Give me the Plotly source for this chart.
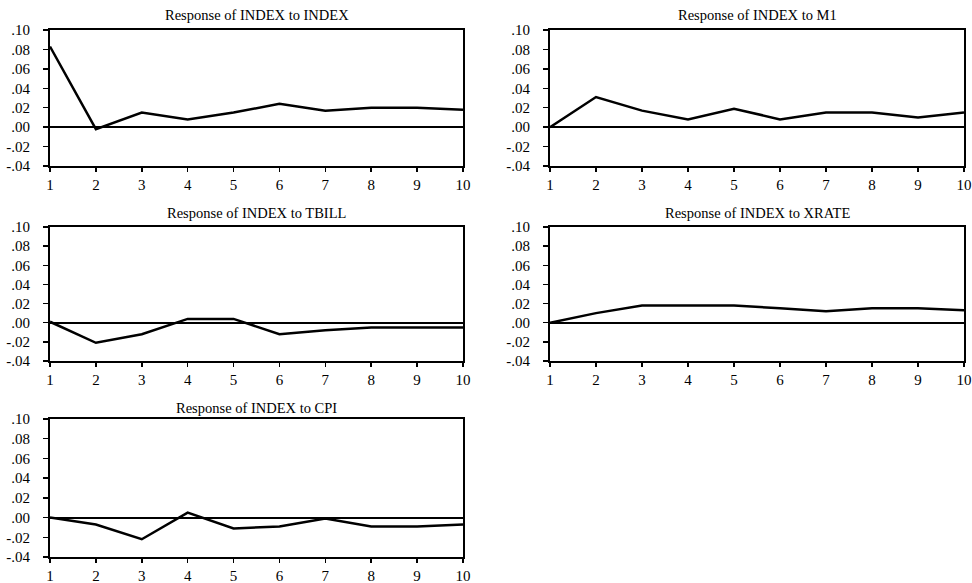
import plotly.graph_objects as go

periods = [1, 2, 3, 4, 5, 6, 7, 8, 9, 10]

titles = [
    "Response of INDEX to INDEX",
    "Response of INDEX to M1",
    "Response of INDEX to TBILL",
    "Response of INDEX to XRATE",
    "Response of INDEX to CPI",
]

resp_index = [0.083, -0.002, 0.015, 0.008, 0.015, 0.024, 0.017, 0.020, 0.020, 0.018]
resp_m1 = [0.000, 0.031, 0.017, 0.008, 0.019, 0.008, 0.015, 0.015, 0.010, 0.015]
resp_tbill = [0.001, -0.021, -0.012, 0.004, 0.004, -0.012, -0.008, -0.005, -0.005, -0.005]
resp_xrate = [0.000, 0.010, 0.018, 0.018, 0.018, 0.015, 0.012, 0.015, 0.015, 0.013]
resp_cpi = [0.000, -0.007, -0.022, 0.005, -0.011, -0.009, -0.001, -0.009, -0.009, -0.007]

series = [resp_index, resp_m1, resp_tbill, resp_xrate, resp_cpi]

y_tickvals = [-0.04, -0.02, 0.00, 0.02, 0.04, 0.06, 0.08, 0.10]
y_ticktext = ["-.04", "-.02", ".00", ".02", ".04", ".06", ".08", ".10"]

# layout geometry (page body margin removed below, so figure px == screen px)
W, H = 972, 583
def px_x(x):
    return x / W
def px_y(y):
    return 1 - y / H

col_x = [(px_x(50), px_x(463)), (px_x(550), px_x(964))]
row_y = [(px_y(166), px_y(30)), (px_y(361), px_y(227)), (px_y(557), px_y(419))]
title_y = [px_y(15), px_y(213), px_y(408)]

FONT = "Liberation Serif"
FS_TICK = 15
FS_TITLE = 14.5

fig = go.Figure()
layout = dict(
    template="none",
    width=W, height=H,
    margin=dict(l=0, r=0, t=0, b=0, autoexpand=False),
    paper_bgcolor="white", plot_bgcolor="white",
    showlegend=False, hovermode=False,
    font=dict(family=FONT, size=FS_TICK, color="black"),
    annotations=[],
)

for i, (title, vals) in enumerate(zip(titles, series)):
    r, c = divmod(i, 2)
    n = i + 1
    xa = "xaxis" if n == 1 else f"xaxis{n}"
    ya = "yaxis" if n == 1 else f"yaxis{n}"
    xref = "x" if n == 1 else f"x{n}"
    yref = "y" if n == 1 else f"y{n}"
    fig.add_trace(go.Scatter(
        x=periods, y=vals, mode="lines",
        line=dict(color="black", width=2.5),
        xaxis=xref, yaxis=yref, cliponaxis=False,
    ))
    layout[xa] = dict(
        domain=list(col_x[c]), anchor=yref, range=[1, 10],
        tickvals=periods, ticktext=[str(p) for p in periods],
        showline=True, mirror=True, linecolor="black", linewidth=2,
        ticks="outside", ticklen=4, tickwidth=1.5, tickcolor="black",
        showgrid=False, zeroline=False, automargin=False,
        tickfont=dict(family=FONT, size=FS_TICK, color="black"),
    )
    layout[ya] = dict(
        domain=list(row_y[r]), anchor=xref, range=[-0.04, 0.10],
        tickvals=y_tickvals, ticktext=y_ticktext,
        showline=True, mirror=True, linecolor="black", linewidth=2,
        ticks="outside", ticklen=5, tickwidth=1.5, tickcolor="black",
        ticklabelstandoff=10,
        showgrid=False, zeroline=True, zerolinecolor="black", zerolinewidth=2,
        automargin=False,
        tickfont=dict(family=FONT, size=FS_TICK, color="black"),
    )
    layout["annotations"].append(dict(
        text=title, xref="paper", yref="paper",
        x=(col_x[c][0] + col_x[c][1]) / 2, y=title_y[r],
        xanchor="center", yanchor="middle", showarrow=False,
        font=dict(family=FONT, size=FS_TITLE, color="black"),
    ))

fig.update_layout(**layout)
fig.write_html(
    "out.html",
    config={"displayModeBar": False, "staticPlot": True},
    post_script="document.body.style.margin='0';document.body.style.overflow='hidden';",
)
